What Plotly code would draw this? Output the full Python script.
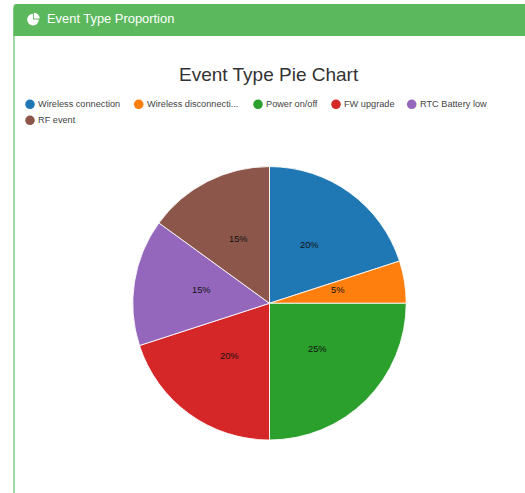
import math
import plotly.graph_objects as go

categories = ["Wireless connection", "Wireless disconnection", "Power on/off",
              "FW upgrade", "RTC Battery low", "RF event"]
legend_labels = ["Wireless connection", "Wireless disconnecti...", "Power on/off",
                 "FW upgrade", "RTC Battery low", "RF event"]
values = [20, 5, 25, 20, 15, 15]
colors = ["#1f77b4", "#ff7f0e", "#2ca02c", "#d62728", "#9467bd", "#8c564b"]
title_text = "Event Type Pie Chart"
header_text = "Event Type Proportion"

W, H = 525, 493
FONT = "Liberation Sans, Arial, sans-serif"
CX, CY, R = 269.5, 303.3, 136.7


def px(x):
    return x / W


def py(y):
    return 1 - y / H


def wedge(cx, cy, r, a0, a1, n=24):
    pts = [(cx, cy)]
    for i in range(n + 1):
        a = math.radians(a0 + (a1 - a0) * i / n)
        pts.append((cx + r * math.sin(a), cy - r * math.cos(a)))
    return "M " + " L ".join(f"{px(x)} {py(y)}" for x, y in pts) + " Z"


fig = go.Figure(go.Pie(
    labels=categories, values=values, sort=False, direction="clockwise", rotation=0,
    marker=dict(colors=colors, line=dict(color="rgba(255,255,255,0.85)", width=1)),
    textinfo="none", showlegend=False,
    domain=dict(x=[px(CX - R), px(CX + R)], y=[py(CY + R), py(CY - R)]),
))

annotations = []
shapes = []

# percentage labels, placed from the data
total = sum(values)
cum = 0
for v in values:
    mid = (cum + v / 2) / total * 2 * math.pi
    cum += v
    annotations.append(dict(
        x=px(CX + 0.5 * R * math.sin(mid)), y=py(CY - 0.5 * R * math.cos(mid) - 3),
        text=f"{v / total * 100:.0f}%", font=dict(size=9.3, color="#111", family=FONT)))

# panel: left border, header and icon
shapes.append(dict(type="rect", xref="paper", yref="paper", x0=px(13), x1=px(15), y0=0, y1=py(8),
                   fillcolor="#a3d7a3", line_width=0, layer="below"))
shapes.append(dict(type="path", xref="paper", yref="paper",
                   path=(f"M {px(13.5)} {py(36)} L {px(13.5)} {py(7)} Q {px(13.5)} {py(4)} {px(16.5)} {py(4)} "
                         f"L {px(525)} {py(4)} L {px(525)} {py(36)} Z"),
                   fillcolor="#5cb85c", line_width=0, layer="below"))
shapes.append(dict(type="path", xref="paper", yref="paper", path=wedge(33.0, 19.6, 5.8, 90, 360),
                   fillcolor="#fff", line_width=0))
shapes.append(dict(type="path", xref="paper", yref="paper", path=wedge(33.9, 18.6, 5.8, 0, 90),
                   fillcolor="#fff", line_width=0))
annotations.append(dict(x=px(45.5), y=py(19), text=header_text, xanchor="left",
                        font=dict(size=12.9, color="#fff", family=FONT)))

# title
annotations.append(dict(x=px(268.5), y=py(74), text=title_text,
                        font=dict(size=19, color="#333", family=FONT)))

# legend
legend_pos = [(30, 104.3), (138.7, 104.3), (258, 104.3), (336, 104.3), (411.7, 104.3), (30, 120.3)]
for (lx, ly), name, col in zip(legend_pos, legend_labels, colors):
    shapes.append(dict(type="circle", xref="paper", yref="paper",
                       x0=px(lx - 4.8), x1=px(lx + 4.8), y0=py(ly + 4.8), y1=py(ly - 4.8),
                       fillcolor=col, line_width=0))
    annotations.append(dict(x=px(lx + 6.8), y=py(ly), text=name, xanchor="left",
                            font=dict(size=9.2, color="#444", family=FONT)))

for a in annotations:
    a.update(xref="paper", yref="paper", showarrow=False, yanchor="middle",
             xanchor=a.get("xanchor", "center"), borderpad=0)

fig.update_layout(width=W, height=H, margin=dict(l=0, r=0, t=0, b=0, pad=0),
                  paper_bgcolor="#fff", plot_bgcolor="#fff",
                  annotations=annotations, shapes=shapes, autosize=False)
fig.write_html("out.html", config=dict(displayModeBar=False),
               post_script="document.documentElement.style.overflow='hidden';document.body.style.margin='0';")
